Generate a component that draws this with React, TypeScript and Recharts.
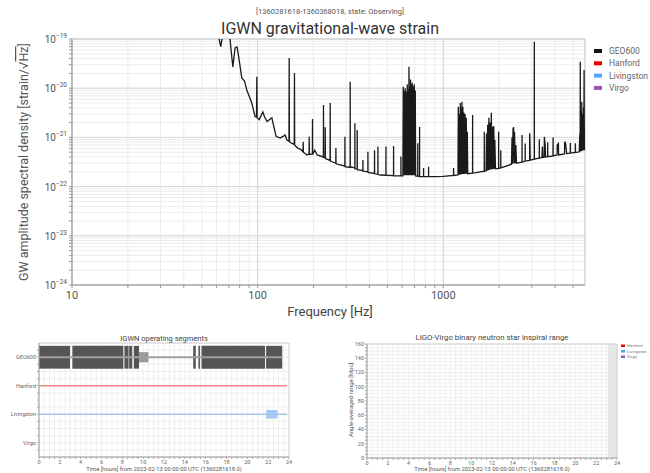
import { CartesianGrid, Line, LineChart, ReferenceArea, ReferenceLine, XAxis, YAxis } from "recharts";

const SANS = "Roboto, 'Noto Sans', 'DejaVu Sans', sans-serif";

// GEO600 amplitude spectral density
const freqHz = [
  56, 61, 63.3, 65.5, 69, 71.1, 73.5, 75.6, 77.5, 80, 82.2, 85, 87.4, 93, 96.9,
  98.6, 99, 99.4, 102, 106.7, 109, 112.5, 116, 119.3, 123, 125.8, 132.2, 137, 140.7, 143.7,
  147.5, 147.9, 148.3, 151.6, 157.5, 157.9, 158.3, 165, 170, 175.6, 176, 176.4, 184.2,
  189.3, 189.6, 190, 197.2, 197.5, 197.8, 203, 209.3, 226, 226.3, 226.7, 231, 231.3, 231.7,
  245.6, 245.9, 246.3, 251.2, 263.7, 264, 264.4, 278.4, 295, 295.2, 295.5, 315, 315.2, 315.5,
  321.9, 334, 334.1, 334.5, 343.6, 343.8, 344.2, 356.9, 369, 369.1, 369.5, 392.5, 392.7, 393,
  426, 426.3, 426.7, 444.4, 444.6, 445, 457.5, 491, 491.1, 491.5, 539.6, 539.8, 540.2,
  591.4, 591.6, 592,
  606, 608.8, 612, 615, 619, 624, 628, 632, 636, 639.7, 643, 646, 650, 653.4, 657, 660, 663,
  666, 669, 672.3, 676, 680, 684, 689.2, 693, 698, 702, 706.6, 710,
  728.5, 728.8, 729.2, 745, 745.3, 745.7, 783, 783.3, 783.7, 833, 833.5, 834, 886.8, 1000,
  1136, 1136.5, 1137, 1200,
  1205, 1212, 1220, 1227, 1235, 1242, 1250, 1256, 1261, 1268, 1275, 1282, 1290, 1298, 1310,
  1318, 1330, 1338, 1347, 1355,
  1438, 1439, 1440, 1480, 1583, 1662, 1663, 1664,
  1700, 1710, 1722, 1735, 1748, 1760, 1772, 1785, 1797, 1815, 1828, 1840, 1855, 1870, 1884,
  1896, 1910, 1986, 1987, 1988, 2040, 2041, 2042, 2200,
  2330, 2346, 2360, 2375, 2393, 2405, 2420, 2440, 2460, 2480,
  2656, 2657, 2658, 2760, 2762, 2764, 2918, 2920, 2930, 2940, 3092, 3094, 3096, 3290, 3292, 3294,
  3400, 3420, 3440, 3500, 3503, 3540, 3560, 3650, 3652, 3654, 3900, 3904, 3908,
  4100, 4110, 4169, 4180, 4500, 4508, 4560, 4620, 4830, 4837, 4845, 5140, 5147, 5155, 5300,
  5400, 5440, 5460, 5470, 5476, 5485, 5500, 5515, 5530, 5545, 5560, 5575, 5593, 5605, 5620,
  5635, 5650, 5665, 5685, 5700, 5720, 5735, 5755, 5770, 5785, 5800,
];

const asdStrain = [
  4e-19, 1.3e-19, 7e-20, 1.6e-19, 1.3e-19, 9.5e-20, 2.7e-20, 6.6e-20, 6.9e-20, 3.2e-20, 1.6e-20, 1.4e-20, 9.2e-21, 5e-21, 2.64e-21,
  2.6e-21, 1.7e-20, 2.5e-21, 2.3e-21, 3.3e-21, 2.6e-21, 2.1e-21, 2.3e-21, 2.5e-21, 1.5e-21, 1.05e-21, 9.7e-22, 1.05e-21, 1.12e-21, 8.8e-22,
  8.4e-22, 4.1e-20, 8.2e-22, 7.7e-22, 7.2e-22, 2.04e-20, 6.9e-22, 6e-22, 5.8e-22, 5.1e-22, 8.2e-22, 5e-22, 4.4e-22,
  4.6e-22, 1.03e-21, 4.5e-22, 4.6e-22, 2.37e-21, 4.5e-22, 5.5e-22, 4.4e-22, 4e-22, 4.56e-21, 4e-22, 3.8e-22, 1.6e-21, 3.7e-22,
  3.4e-22, 5e-21, 3.3e-22, 3.2e-22, 3e-22, 6.1e-22, 2.9e-22, 2.75e-22, 2.6e-22, 1.03e-21, 2.55e-22, 2.45e-22, 1.36e-20, 2.45e-22,
  2.5e-22, 2.35e-22, 1.93e-21, 2.3e-22, 2.25e-22, 1.41e-21, 2.2e-22, 2.17e-22, 2.1e-22, 3.47e-22, 2.05e-22, 2e-22, 5.1e-22, 1.95e-22,
  1.85e-22, 5.5e-22, 1.82e-22, 1.78e-22, 6.5e-22, 1.76e-22, 1.72e-22, 1.7e-22, 6.5e-22, 1.7e-22, 1.67e-22, 6.7e-22, 1.66e-22,
  1.65e-22, 4.1e-22, 1.65e-22,
  1.65e-22, 1.07e-20, 1.7e-22, 9e-21, 1.7e-22, 1e-20, 1.7e-22, 8.5e-21, 1.7e-22, 1.2e-20, 1.7e-22, 9.5e-21, 1.7e-22, 2.74e-20, 1.7e-22, 1.1e-20, 1.7e-22,
  1.5e-20, 1.7e-22, 1.2e-20, 1.7e-22, 1.3e-20, 1.7e-22, 1.1e-20, 1.7e-22, 1.2e-20, 1.7e-22, 9e-21, 1.65e-22,
  1.62e-22, 7.6e-22, 1.62e-22, 1.62e-22, 1.63e-21, 1.6e-22, 1.6e-22, 2.4e-22, 1.6e-22, 1.6e-22, 2.54e-22, 1.6e-22, 1.59e-22, 1.62e-22,
  1.68e-22, 2.4e-22, 1.68e-22, 1.72e-22,
  4.2e-21, 1.75e-22, 3e-21, 1.75e-22, 5e-21, 1.78e-22, 4e-21, 1.78e-22, 5.3e-21, 1.8e-22, 4.2e-21, 1.8e-22, 3.2e-21, 1.8e-22, 3e-21,
  1.82e-22, 2.5e-21, 1.82e-22, 1.3e-21, 1.83e-22,
  1.88e-22, 2.85e-21, 1.88e-22, 1.9e-22, 2e-22, 2.05e-22, 1.31e-21, 2.05e-22,
  2.1e-22, 1.2e-21, 2.1e-22, 1.8e-21, 2.15e-22, 2.5e-21, 2.2e-22, 2e-21, 2.2e-22, 3.18e-21, 2.25e-22, 1.65e-21, 2.25e-22, 1.7e-21, 2.3e-22,
  9e-22, 2.3e-22, 2.35e-22, 1.31e-21, 2.35e-22, 2.4e-22, 5.5e-22, 2.4e-22, 2.65e-22,
  2.85e-22, 1e-21, 2.9e-22, 1.5e-21, 1.6e-21, 2.95e-22, 1.3e-21, 3e-22, 7e-22, 3e-22,
  3.15e-22, 1.12e-21, 3.15e-22, 3.3e-22, 7.5e-22, 3.3e-22, 3.4e-22, 1.21e-21, 8e-22, 3.45e-22, 3.6e-22, 8.8e-20, 3.6e-22, 3.8e-22, 9.15e-22, 3.8e-22,
  3.9e-22, 6.5e-22, 3.9e-22, 3.95e-22, 1.03e-21, 7e-22, 4e-22, 4.05e-22, 8e-22, 4.05e-22, 4.2e-22, 1e-21, 4.2e-22,
  4.4e-22, 7e-22, 7.5e-22, 4.4e-22, 4.6e-22, 8.2e-22, 7.5e-22, 4.7e-22, 4.8e-22, 7.7e-22, 4.8e-22, 4.95e-22, 7.6e-22, 4.95e-22, 5e-22,
  5.1e-22, 1.2e-21, 5.2e-22, 3.46e-20, 5.2e-22, 2e-21, 5.2e-22, 3e-21, 5.3e-22, 3.5e-21, 5.3e-22, 5.3e-21, 5.4e-22, 2.5e-21,
  5.4e-22, 3e-21, 5.4e-22, 2.5e-21, 5.5e-22, 4e-21, 5.5e-22, 2.34e-20, 5.5e-22, 1.5e-21, 5.55e-22,
];

const spectrum = freqHz.map((f, i) => ({ f, geo600: asdStrain[i] }));

const detectorNames = ["GEO600", "Hanford", "Livingston", "Virgo"];
const detectorColors = ["#111111", "#ee0000", "#4ba6ff", "#9b59b6"];

const decadeFreqs = [10, 100, 1000];
const freqTicks = [
  10, 20, 30, 40, 50, 60, 70, 80, 90, 100, 200, 300, 400, 500, 600, 700, 800, 900, 1000, 2000, 3000, 4000, 5000,
];
const decadeExponents = [-24, -23, -22, -21, -20, -19];
const mantissas = [1, 2, 3, 4, 5, 6, 7, 8, 9];
const asdTicks = decadeExponents.flatMap((e) => (e === -19 ? [1e-19] : mantissas.map((m) => m * 10 ** e)));
const asdDecades = decadeExponents.map((e) => 10 ** e);

// operating segments (hours from 2023-02-13 00:00 UTC)
const knownHours = [0, 23.35, 23.8];
const geoKnown = [3, 3, null];
const geoActive = [
  [0, 2.98], [3.2, 8.1], [8.2, 8.6], [8.65, 8.95], [9.1, 9.6], [14.8, 15.05], [15.3, 15.45], [15.6, 21.7], [21.8, 23.35],
];
const geoPartial = [[9.6, 10.5]];
const livingstonActive = [[21.8, 22.9]];
const segmentRows = ["Virgo", "Livingston", "Hanford", "GEO600"];

// BNS range: no data in this span
const rangeHours = [0, 24];
const rangeDetectors = ["Hanford", "Livingston", "Virgo"];
const rangeColors = ["#ee0000", "#4ba6ff", "#9b59b6"];

const hourTicks = Array.from({ length: 49 }, (_, i) => i / 2);
const rangeTicks = Array.from({ length: 33 }, (_, i) => i * 5);
const rowTicks = Array.from({ length: 15 }, (_, i) => -0.25 + i * 0.25);

const segmentData = knownHours.map((t, i) => ({ t, geo: geoKnown[i], hanford: 2, livingston: 1 }));
const rangeData = rangeHours.map((t) => ({ t, Hanford: null, Livingston: null, Virgo: null }));

function isDecade(v: number) {
  const l = Math.log10(v);
  return Math.abs(l - Math.round(l)) < 1e-6;
}

function FreqTick({ x, y, payload }: any) {
  if (!decadeFreqs.includes(payload.value)) return <g />;
  return (
    <text x={x} y={y} dy={9} textAnchor="middle" fontSize={11} fill="#555" fontFamily={SANS}>
      {payload.value}
    </text>
  );
}

function AsdTick({ x, y, payload }: any) {
  if (!isDecade(payload.value)) return <g />;
  const exp = Math.round(Math.log10(payload.value));
  return (
    <text x={x} y={y} dy={4} textAnchor="end" fill="#555" fontFamily={SANS}>
      <tspan fontSize={10}>10</tspan>
      <tspan fontSize={6.5} dy={-5}>{`\u2212${Math.abs(exp)}`}</tspan>
    </text>
  );
}

const smallTick = { fontSize: 5.5, fill: "#666", fontFamily: SANS };

function StrainChart() {
  return (
    <LineChart width={650} height={320} data={spectrum} margin={{ top: 39, right: 65, bottom: 0, left: 0 }}>
      <CartesianGrid stroke="#ececec" />
      {decadeFreqs.map((f) => (
        <ReferenceLine key={f} x={f} stroke="#d6d6d6" />
      ))}
      {asdDecades.map((a) => (
        <ReferenceLine key={a} y={a} stroke="#d6d6d6" />
      ))}
      <XAxis
        dataKey="f"
        type="number"
        scale="log"
        domain={[10, 5800]}
        ticks={freqTicks}
        interval={0}
        tick={<FreqTick />}
        tickSize={3}
        height={35}
        stroke="#999"
        allowDataOverflow
      />
      <YAxis
        type="number"
        scale="log"
        domain={[1e-24, 1e-19]}
        ticks={asdTicks}
        interval={0}
        tick={<AsdTick />}
        tickSize={3}
        width={72}
        stroke="#999"
        allowDataOverflow
      />
      <ReferenceArea x1={10} x2={5800} y1={1e-24} y2={1e-19} fill="none" stroke="#c8c8c8" />
      <Line
        dataKey="geo600"
        type="linear"
        stroke="#1a1a1a"
        strokeWidth={1.3}
        dot={false}
        isAnimationActive={false}
      />
    </LineChart>
  );
}

function SegmentsChart() {
  return (
    <LineChart width={320} height={143} data={segmentData} margin={{ top: 13, right: 31, bottom: 0, left: 0 }}>
      <CartesianGrid stroke="#efefef" />
      <XAxis
        dataKey="t"
        type="number"
        domain={[0, 24]}
        ticks={hourTicks}
        interval={0}
        tickFormatter={(v: number) => (v % 2 === 0 ? String(v) : "")}
        tick={smallTick}
        tickSize={2}
        tickMargin={1}
        height={16}
        stroke="#aaa"
        allowDataOverflow
      />
      <YAxis
        type="number"
        domain={[-0.5, 3.5]}
        ticks={rowTicks}
        interval={0}
        tickFormatter={(v: number) => (Number.isInteger(v) ? segmentRows[v] : "")}
        tick={smallTick}
        tickSize={2}
        tickMargin={1}
        width={39}
        stroke="#aaa"
        allowDataOverflow
      />
      <ReferenceArea x1={0} x2={24} y1={-0.5} y2={3.5} fill="none" stroke="#d0d0d0" />
      <Line dataKey="geo" stroke="#a0a0a0" strokeWidth={2} dot={false} isAnimationActive={false} />
      <Line dataKey="hanford" stroke="#f08a8a" strokeWidth={1.3} dot={false} isAnimationActive={false} />
      <Line dataKey="livingston" stroke="#a9c4ee" strokeWidth={1.3} dot={false} isAnimationActive={false} />
      {geoPartial.map(([a, b]) => (
        <ReferenceArea key={`p${a}`} x1={a} x2={b} y1={2.82} y2={3.18} fill="#9a9a9a" fillOpacity={1} stroke="none" />
      ))}
      {geoActive.map(([a, b]) => (
        <ReferenceArea key={`g${a}`} x1={a} x2={b} y1={2.6} y2={3.4} fill="#555555" fillOpacity={1} stroke="none" />
      ))}
      {livingstonActive.map(([a, b]) => (
        <ReferenceArea key={`l${a}`} x1={a} x2={b} y1={0.85} y2={1.15} fill="#a4c8f7" fillOpacity={1} stroke="none" />
      ))}
    </LineChart>
  );
}

function RangeChart() {
  return (
    <LineChart width={320} height={143} data={rangeData} margin={{ top: 14, right: 33, bottom: 0, left: 0 }}>
      <CartesianGrid stroke="#efefef" />
      <XAxis
        dataKey="t"
        type="number"
        domain={[0, 24]}
        ticks={hourTicks}
        interval={0}
        tickFormatter={(v: number) => (v % 2 === 0 ? String(v) : "")}
        tick={smallTick}
        tickSize={2}
        tickMargin={1}
        height={15}
        stroke="#aaa"
        allowDataOverflow
      />
      <YAxis
        type="number"
        domain={[0, 160]}
        ticks={rangeTicks}
        interval={0}
        tickFormatter={(v: number) => (v % 20 === 0 ? String(v) : "")}
        tick={smallTick}
        tickSize={2}
        tickMargin={1}
        width={37}
        stroke="#aaa"
        allowDataOverflow
      />
      <ReferenceArea x1={23.15} x2={24} y1={0} y2={160} fill="#e6e6e6" fillOpacity={1} stroke="none" />
      <ReferenceArea x1={0} x2={24} y1={0} y2={160} fill="none" stroke="#d0d0d0" />
      {rangeDetectors.map((d, i) => (
        <Line key={d} dataKey={d} stroke={rangeColors[i]} dot={false} isAnimationActive={false} />
      ))}
    </LineChart>
  );
}

export default function App() {
  return (
    <div style={{ position: "absolute", left: 0, top: 0, width: 650, height: 473, background: "#fff", fontFamily: SANS }}>
      <div style={{ position: "absolute", left: 0, top: 0 }}>
        <StrainChart />
      </div>
      <div style={{ position: "absolute", left: 0, top: 330 }}>
        <SegmentsChart />
      </div>
      <div style={{ position: "absolute", left: 330, top: 330 }}>
        <RangeChart />
      </div>
      <svg width={650} height={473} style={{ position: "absolute", left: 0, top: 0, pointerEvents: "none" }} fontFamily={SANS}>
        <text x={330} y={14} textAnchor="middle" fontSize={7.5} fill="#555">
          [1360281618-1360368018, state: Observing]
        </text>
        <text x={330} y={34} textAnchor="middle" fontSize={16} fill="#333">
          IGWN gravitational-wave strain
        </text>
        <text transform="translate(28,162) rotate(-90)" textAnchor="middle" fontSize={12.5} fill="#555">
          GW amplitude spectral density [strain/√<tspan style={{ textDecoration: "overline" }}>Hz</tspan>]
        </text>
        <text x={330} y={316} textAnchor="middle" fontSize={13} fill="#444">
          Frequency [Hz]
        </text>
        {detectorNames.map((d, i) => (
          <g key={d}>
            <rect x={594} y={49 + i * 12.3} width={8} height={4} fill={detectorColors[i]} />
            <text x={609} y={54 + i * 12.3} fontSize={8.5} fill="#666">
              {d}
            </text>
          </g>
        ))}

        <text x={164} y={341} textAnchor="middle" fontSize={7.5} fill="#444">
          IGWN operating segments
        </text>
        <text x={164} y={471} textAnchor="middle" fontSize={5.8} fill="#555">
          Time [hours] from 2023-02-13 00:00:00 UTC (1360281618.0)
        </text>

        <text x={492} y={340} textAnchor="middle" fontSize={7.8} fill="#444">
          LIGO-Virgo binary neutron star inspiral range
        </text>
        <text transform="translate(353,400) rotate(-90)" textAnchor="middle" fontSize={6} fill="#555">
          Angle-averaged range [Mpc]
        </text>
        <text x={492} y={471} textAnchor="middle" fontSize={5.8} fill="#555">
          Time [hours] from 2023-02-13 00:00:00 UTC (1360281618.0)
        </text>
        {rangeDetectors.map((d, i) => (
          <g key={d}>
            <rect x={621} y={344.5 + i * 5.5} width={4} height={2.5} fill={rangeColors[i]} />
            <text x={627} y={347 + i * 5.5} fontSize={4.3} fill="#777">
              {d}
            </text>
          </g>
        ))}
      </svg>
    </div>
  );
}
